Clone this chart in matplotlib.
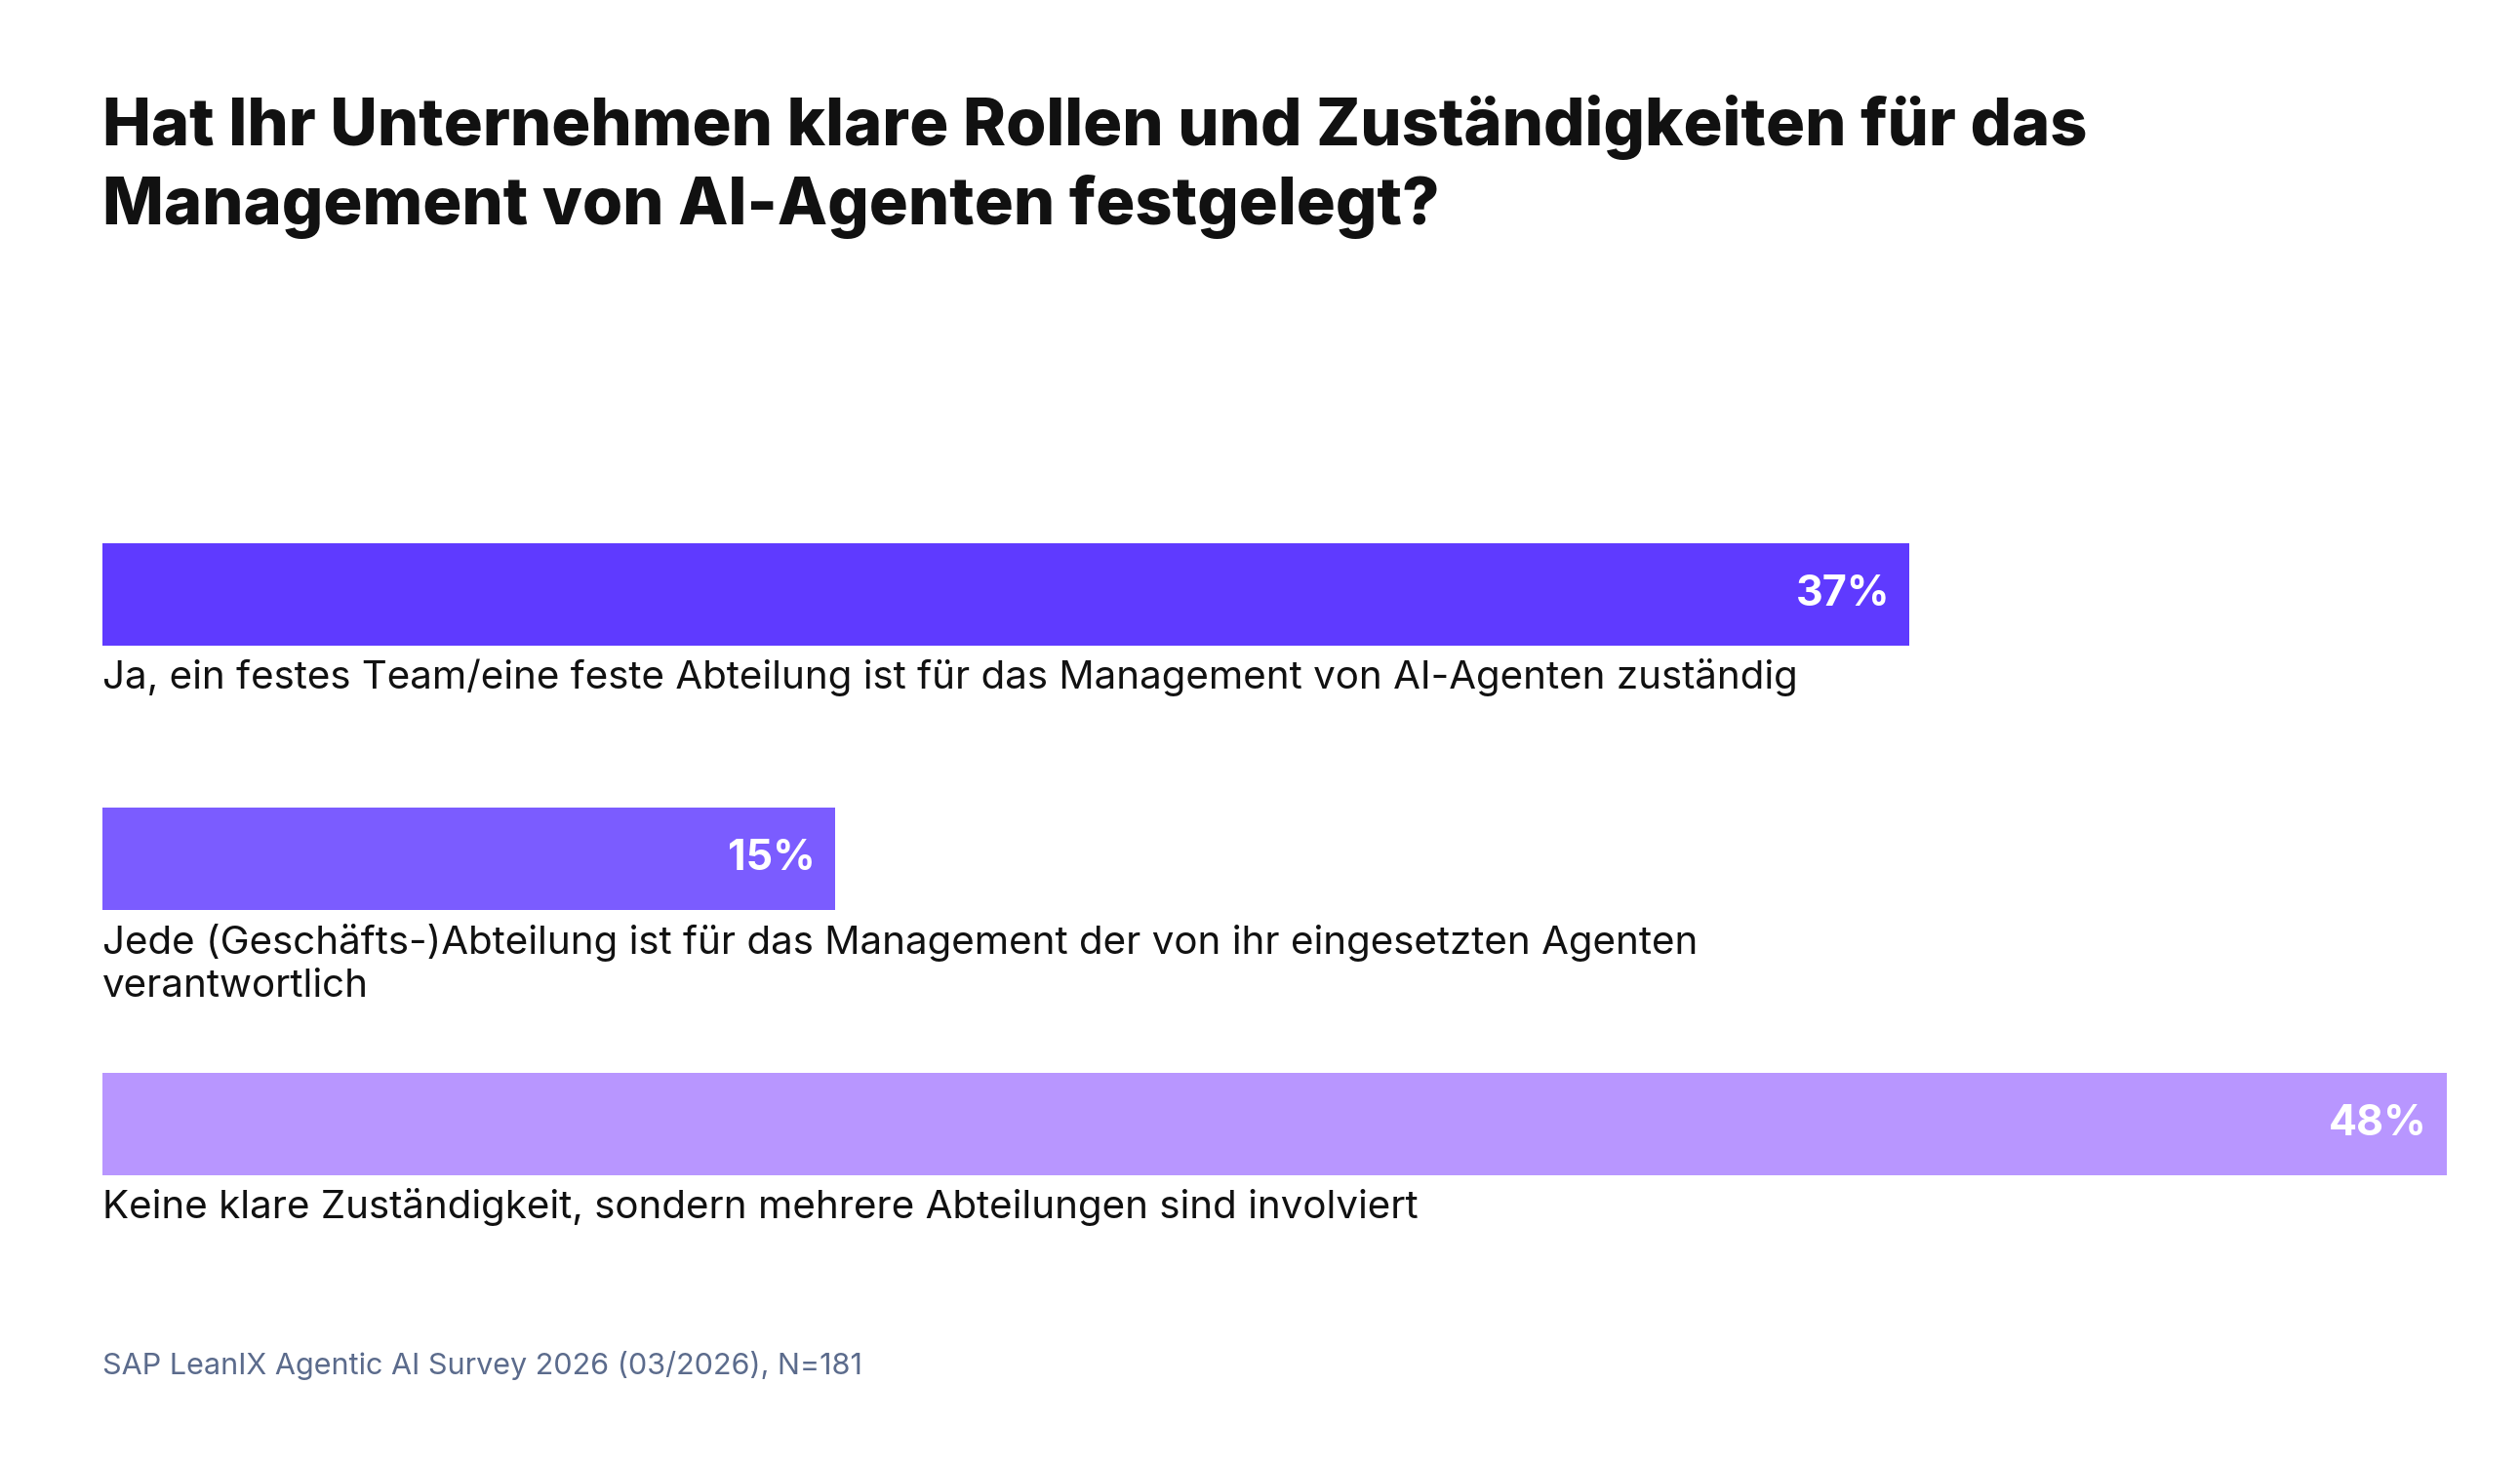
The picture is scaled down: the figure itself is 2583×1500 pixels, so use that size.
import matplotlib.pyplot as plt

categories = [
    "Ja, ein festes Team/eine feste Abteilung ist für das Management von AI-Agenten zuständig",
    "Jede (Geschäfts-)Abteilung ist für das Management der von ihr eingesetzten Agenten\nverantwortlich",
    "Keine klare Zuständigkeit, sondern mehrere Abteilungen sind involviert",
]
values = [37, 15, 48]
colors = ["#5f3aff", "#7b5cff", "#b896ff"]
title = "Hat Ihr Unternehmen klare Rollen und Zuständigkeiten für das\nManagement von AI-Agenten festgelegt?"
source = "SAP LeanIX Agentic AI Survey 2026 (03/2026), N=181"

plt.rcParams['font.family'] = ['Inter', 'DejaVu Sans']

W, H = 1550, 900  # layout grid (scaled display units)
fig = plt.figure(figsize=(25.83, 15), dpi=100)
ax = fig.add_axes([63 / W, 0, (1505 - 63) / W, 1])
ax.set_xlim(0, max(values))
ax.set_ylim(H, 0)
ax.axis("off")

step, first, bh = 163, 365.5, 63
for i, (cat, v, c) in enumerate(zip(categories, values, colors)):
    y = first + i * step
    ax.barh(y, v, height=bh, color=c)
    ax.text(v - 0.4, y, f"{v}%", ha="right", va="center", color="white",
            fontsize=31, fontweight="bold")
    ax.text(0, y + bh / 2 + 8, cat, ha="left", va="top", color="#111111",
            fontsize=29, linespacing=1.25)

fig.text(63 / W, 1 - 58 / H, title, ha="left", va="top", fontsize=48,
         fontweight=800, color="#111111", linespacing=1.3)
fig.text(63 / W, 1 - 840 / H, source, ha="left", va="center", fontsize=22,
         color="#5b6b8c")

fig.savefig("out.png", dpi=100, facecolor="white")
